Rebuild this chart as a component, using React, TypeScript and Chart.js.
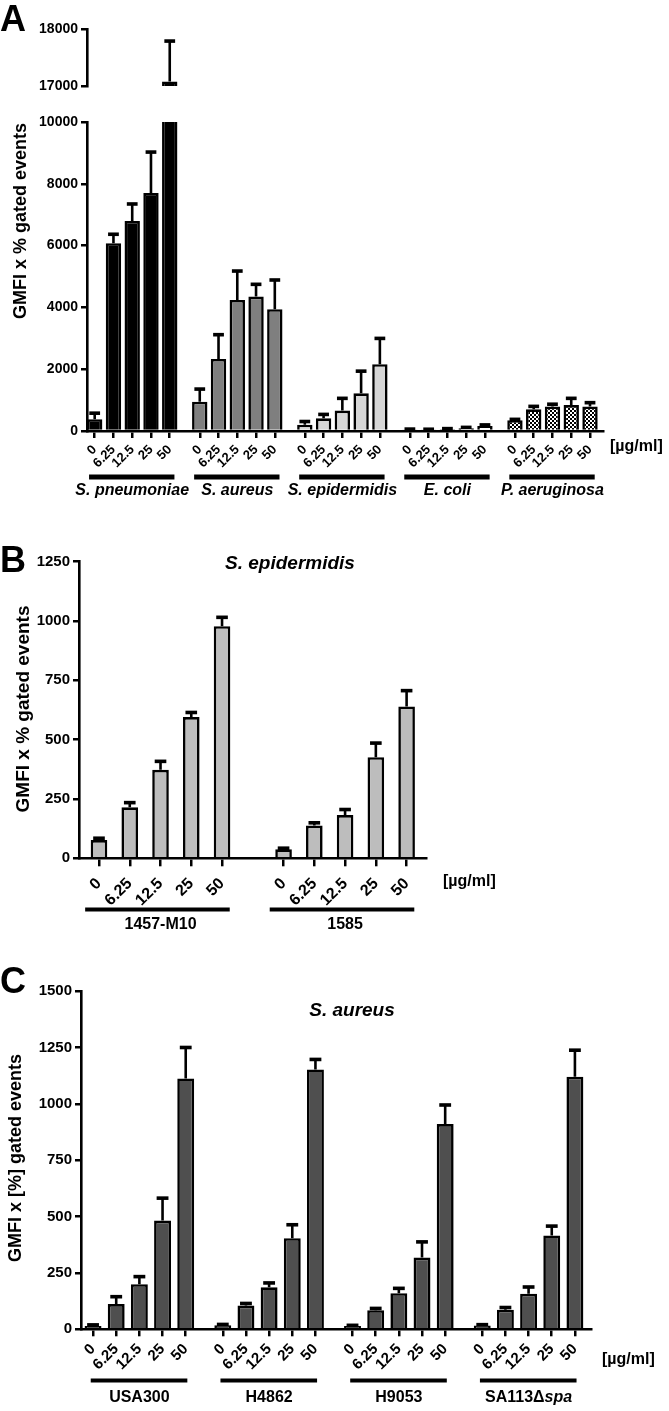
import React, { useEffect, useRef } from "react";
import { Chart, registerables } from "chart.js";
Chart.register(...registerables);

const FONT = "'Liberation Sans', Arial, Helvetica, sans-serif";
const W = 669;
const H = 1411;

// ---------------- data ----------------
const doseLabels = ["0", "6.25", "12.5", "25", "50"];

// Panel A
const speciesA = ["S. pneumoniae", "S. aureus", "S. epidermidis", "E. coli", "P. aeruginosa"];
const pneumoniaeMean = [380, 6080, 6800, 7700, 17080];
const pneumoniaeSem = [200, 290, 550, 1330, 710];
const aureusMean = [950, 2330, 4240, 4350, 3940];
const aureusSem = [410, 790, 940, 400, 950];
const epidermidisMean = [200, 410, 660, 1220, 2160];
const epidermidisSem = [110, 130, 400, 720, 840];
const coliMean = [50, 45, 60, 90, 160];
const coliSem = [15, 15, 20, 30, 40];
const aeruginosaMean = [350, 700, 790, 840, 790];
const aeruginosaSem = [30, 100, 80, 220, 130];
const yTicksALower = [0, 2000, 4000, 6000, 8000, 10000];
const yTicksAUpper = [17000, 18000];

// Panel B
const strainsB = ["1457-M10", "1585"];
const m10Mean = [77, 215, 373, 595, 978];
const m10Sem = [8, 20, 36, 20, 38];
const s1585Mean = [38, 138, 182, 426, 640];
const s1585Sem = [5, 12, 24, 60, 67];
const yTicksB = [0, 250, 500, 750, 1000, 1250];

// Panel C
const strainsC = ["USA300", "H4862", "H9053", "SA113Δ"];
const strainsCItalic = ["", "", "", "spa"];
const usa300Mean = [15, 112, 200, 482, 1112];
const usa300Sem = [5, 33, 34, 100, 138];
const h4862Mean = [18, 105, 186, 404, 1152];
const h4862Sem = [4, 10, 20, 60, 45];
const h9053Mean = [15, 85, 160, 318, 910];
const h9053Sem = [3, 8, 22, 70, 85];
const sa113Mean = [17, 87, 158, 416, 1120];
const sa113Sem = [4, 10, 30, 42, 118];
const yTicksC = [0, 250, 500, 750, 1000, 1250, 1500];

// ---------------- helpers ----------------
interface Deco {
  letter: { text: string; x: number; y: number; size: number };
  yTitle: { text: string; x: number; y: number; size: number };
  title?: { text: string; x: number; y: number; size: number };
  unit: { x: number; y: number; size: number };
  line: { y: number; w: number; extL: number; extR: number };
  names: { list: string[]; suffix?: string[]; italic: boolean; y: number; size: number };
}

interface Panel {
  means: number[][];
  sems: number[][];
  fills: any[];
  stride: number;
  area: { left: number; top: number; right: number; bottom: number };
  xMin: number;
  xMax: number;
  yMin: number;
  yMax: number;
  yTicks: number[];
  barPct: number;
  xFont: number;
  xPad: number;
  yFont: number;
  xTickLen: number;
  showX: boolean;
  keep?: (v: number) => boolean;
  deco?: Deco;
}

function makePattern(): CanvasPattern | string {
  const c = document.createElement("canvas");
  c.width = 4;
  c.height = 4;
  const g = c.getContext("2d");
  if (!g) return "#999";
  g.fillStyle = "#ffffff";
  g.fillRect(0, 0, 4, 4);
  g.fillStyle = "#000000";
  g.fillRect(0, 0, 2, 2);
  g.fillRect(2, 2, 2, 2);
  const p = g.createPattern(c, "repeat");
  return p || "#999";
}

function build(canvas: HTMLCanvasElement, p: Panel) {
  const pts: { x: number; y: number | null }[] = [];
  const sem: number[] = [];
  const bg: any[] = [];
  p.means.forEach((vals, g) =>
    vals.forEach((v, i) => {
      pts.push({ x: g * p.stride + i, y: !p.keep || p.keep(v) ? v : null });
      sem.push(p.sems[g][i]);
      bg.push(p.fills[g]);
    })
  );
  const xs = pts.map((d) => d.x);

  const errPlugin = {
    id: "errBars",
    afterDatasetsDraw(chart: any) {
      const { ctx, chartArea: a } = chart;
      const meta = chart.getDatasetMeta(0);
      const ys = chart.scales.y;
      ctx.save();
      ctx.beginPath();
      ctx.rect(a.left, a.top, a.right - a.left, a.bottom - a.top);
      ctx.clip();
      ctx.strokeStyle = "#000";
      ctx.fillStyle = "#000";
      ctx.lineWidth = 2.6;
      meta.data.forEach((el: any, i: number) => {
        const d = pts[i];
        if (d.y == null) return;
        const top = ys.getPixelForValue(d.y + sem[i]);
        const cw = el.width * 0.7;
        ctx.beginPath();
        ctx.moveTo(el.x, el.y);
        ctx.lineTo(el.x, top);
        ctx.stroke();
        ctx.fillRect(el.x - cw / 2, top - 1.7, cw, 3.6);
      });
      ctx.restore();
    },
  };

  const decoPlugin = {
    id: "deco",
    afterDraw(chart: any) {
      const dc = p.deco;
      if (!dc) return;
      const ctx: CanvasRenderingContext2D = chart.ctx;
      const xs2 = chart.scales.x;
      ctx.save();
      ctx.fillStyle = "#000";
      // panel letter
      ctx.font = `bold ${dc.letter.size}px ${FONT}`;
      ctx.textAlign = "left";
      ctx.textBaseline = "alphabetic";
      ctx.fillText(dc.letter.text, dc.letter.x, dc.letter.y);
      // y title
      ctx.save();
      ctx.translate(dc.yTitle.x, dc.yTitle.y);
      ctx.rotate(-Math.PI / 2);
      ctx.font = `bold ${dc.yTitle.size}px ${FONT}`;
      ctx.textAlign = "center";
      ctx.textBaseline = "middle";
      ctx.fillText(dc.yTitle.text, 0, 0);
      ctx.restore();
      // panel title
      if (dc.title) {
        ctx.font = `italic bold ${dc.title.size}px ${FONT}`;
        ctx.textAlign = "center";
        ctx.textBaseline = "middle";
        ctx.fillText(dc.title.text, dc.title.x, dc.title.y);
      }
      // unit
      ctx.font = `bold ${dc.unit.size}px ${FONT}`;
      ctx.textAlign = "left";
      ctx.textBaseline = "middle";
      ctx.fillText("[µg/ml]", dc.unit.x, dc.unit.y);
      // group lines and names
      p.means.forEach((_, g) => {
        const x0 = xs2.getPixelForValue(g * p.stride - dc.line.extL);
        const x1 = xs2.getPixelForValue(g * p.stride + 4 + dc.line.extR);
        ctx.fillRect(x0, dc.line.y - dc.line.w / 2, x1 - x0, dc.line.w);
        const cx = xs2.getPixelForValue(g * p.stride + 2);
        const main = dc.names.list[g];
        const suf = dc.names.suffix ? dc.names.suffix[g] : "";
        const f1 = `${dc.names.italic ? "italic " : ""}bold ${dc.names.size}px ${FONT}`;
        const f2 = `italic bold ${dc.names.size}px ${FONT}`;
        ctx.font = f1;
        const w1 = ctx.measureText(main).width;
        ctx.font = f2;
        const w2 = suf ? ctx.measureText(suf).width : 0;
        const start = cx - (w1 + w2) / 2;
        ctx.textAlign = "left";
        ctx.textBaseline = "middle";
        ctx.font = f1;
        ctx.fillText(main, start, dc.names.y);
        if (suf) {
          ctx.font = f2;
          ctx.fillText(suf, start + w1, dc.names.y);
        }
      });
      ctx.restore();
    },
  };

  const axisCommon = {
    grid: {
      display: true,
      drawOnChartArea: false,
      drawTicks: true,
      color: "#000",
      lineWidth: 2.5,
      offset: false,
    },
    border: { display: true, color: "#000", width: 2.6 },
  };

  return new Chart(canvas, {
    type: "bar",
    data: {
      datasets: [
        {
          data: pts as any,
          backgroundColor: bg,
          borderColor: "#000",
          borderWidth: 2.6,
          barPercentage: p.barPct,
          categoryPercentage: 1,
          borderSkipped: "start",
        },
      ],
    },
    options: {
      animation: false,
      responsive: false,
      maintainAspectRatio: false,
      events: [],
      layout: {
        padding: {
          left: 0,
          top: p.area.top,
          right: W - p.area.right,
          bottom: p.showX ? 0 : H - p.area.bottom,
        },
      },
      plugins: { legend: { display: false }, tooltip: { enabled: false } },
      scales: {
        x: {
          type: "linear",
          display: p.showX,
          min: p.xMin,
          max: p.xMax,
          offset: false,
          afterBuildTicks: (s: any) => {
            s.ticks = xs.map((v) => ({ value: v }));
          },
          afterFit: (s: any) => {
            if (p.showX) s.height = H - p.area.bottom;
          },
          ticks: {
            autoSkip: false,
            minRotation: 45,
            maxRotation: 45,
            padding: p.xPad,
            color: "#000",
            font: { family: FONT, size: p.xFont, weight: "bold" },
            callback: (_v: any, i: number) => doseLabels[i % doseLabels.length],
          },
          grid: { ...axisCommon.grid, tickLength: p.xTickLen },
          border: axisCommon.border,
        },
        y: {
          type: "linear",
          min: p.yMin,
          max: p.yMax,
          afterBuildTicks: (s: any) => {
            s.ticks = p.yTicks.map((v) => ({ value: v }));
          },
          afterFit: (s: any) => {
            s.width = p.area.left;
          },
          ticks: {
            padding: 3,
            color: "#000",
            font: { family: FONT, size: p.yFont, weight: "bold" },
            callback: (v: any) => String(v),
          },
          grid: { ...axisCommon.grid, tickLength: 6 },
          border: axisCommon.border,
        },
      },
    } as any,
    plugins: [errPlugin, decoPlugin],
  });
}

export default function App() {
  const r1 = useRef<HTMLCanvasElement>(null);
  const r2 = useRef<HTMLCanvasElement>(null);
  const r3 = useRef<HTMLCanvasElement>(null);
  const r4 = useRef<HTMLCanvasElement>(null);

  useEffect(() => {
    const pat = makePattern();
    const fillsA = ["#000000", "#7f7f7f", "#d6d6d6", "#ffffff", pat];
    const meansA = [pneumoniaeMean, aureusMean, epidermidisMean, coliMean, aeruginosaMean];
    const semsA = [pneumoniaeSem, aureusSem, epidermidisSem, coliSem, aeruginosaSem];
    const breakLow = yTicksALower[yTicksALower.length - 1];

    const baseA = {
      means: meansA,
      sems: semsA,
      fills: fillsA,
      stride: 5.6,
      xMin: -0.41,
      xMax: 27.13,
      barPct: 0.82,
      xFont: 13,
      xPad: 4,
      yFont: 14,
      xTickLen: 7,
    };

    const charts = [
      build(r1.current!, {
        ...baseA,
        area: { left: 87, top: 29, right: 603.7, bottom: 86 },
        yMin: yTicksAUpper[0],
        yMax: yTicksAUpper[yTicksAUpper.length - 1],
        yTicks: yTicksAUpper,
        showX: false,
        keep: (v) => v > breakLow,
      }),
      build(r2.current!, {
        ...baseA,
        area: { left: 87, top: 122, right: 603.7, bottom: 431 },
        yMin: 0,
        yMax: breakLow,
        yTicks: yTicksALower,
        showX: true,
        deco: {
          letter: { text: "A", x: 0, y: 31, size: 36 },
          yTitle: { text: "GMFI x % gated events", x: 21, y: 221, size: 18 },
          unit: { x: 610, y: 447, size: 16 },
          line: { y: 477, w: 5, extL: 0.3, extR: 0.25 },
          names: { list: speciesA, italic: true, y: 491, size: 16 },
        },
      }),
      build(r3.current!, {
        means: [m10Mean, s1585Mean],
        sems: [m10Sem, s1585Sem],
        fills: ["#bdbdbd", "#bdbdbd"],
        stride: 6,
        area: { left: 79, top: 561.7, right: 426.6, bottom: 858.3 },
        xMin: -0.65,
        xMax: 10.65,
        yMin: 0,
        yMax: 1250,
        yTicks: yTicksB,
        barPct: 0.54,
        xFont: 16,
        xPad: 8,
        yFont: 15,
        xTickLen: 8,
        showX: true,
        deco: {
          letter: { text: "B", x: 0, y: 572, size: 36 },
          yTitle: { text: "GMFI x % gated events", x: 24, y: 709, size: 19 },
          title: { text: "S. epidermidis", x: 290, y: 564, size: 19 },
          unit: { x: 443, y: 882, size: 16 },
          line: { y: 909.5, w: 4, extL: 0.45, extR: 0.25 },
          names: { list: strainsB, italic: false, y: 925, size: 16 },
        },
      }),
      build(r4.current!, {
        means: [usa300Mean, h4862Mean, h9053Mean, sa113Mean],
        sems: [usa300Sem, h4862Sem, h9053Sem, sa113Sem],
        fills: ["#4f4f4f", "#4f4f4f", "#4f4f4f", "#4f4f4f"],
        stride: 5.6,
        area: { left: 81, top: 991, right: 590.9, bottom: 1329.3 },
        xMin: -0.52,
        xMax: 21.49,
        yMin: 0,
        yMax: 1500,
        yTicks: yTicksC,
        barPct: 0.73,
        xFont: 15,
        xPad: 4,
        yFont: 15,
        xTickLen: 7,
        showX: true,
        deco: {
          letter: { text: "C", x: 0, y: 993, size: 36 },
          yTitle: { text: "GMFI x [%] gated events", x: 16, y: 1158, size: 18 },
          title: { text: "S. aureus", x: 352, y: 1011, size: 19 },
          unit: { x: 602, y: 1360, size: 16 },
          line: { y: 1380.5, w: 4, extL: 0.1, extR: 0.07 },
          names: { list: strainsC, suffix: strainsCItalic, italic: false, y: 1398, size: 16 },
        },
      }),
    ];
    return () => charts.forEach((c) => c.destroy());
  }, []);

  const refs = [r1, r2, r3, r4];
  return (
    <div style={{ position: "absolute", left: 0, top: 0, width: W, height: H, background: "#fff" }}>
      {refs.map((r, i) => (
        <canvas
          key={i}
          ref={r}
          width={W}
          height={H}
          style={{ position: "absolute", left: 0, top: 0, width: W, height: H }}
        />
      ))}
    </div>
  );
}
